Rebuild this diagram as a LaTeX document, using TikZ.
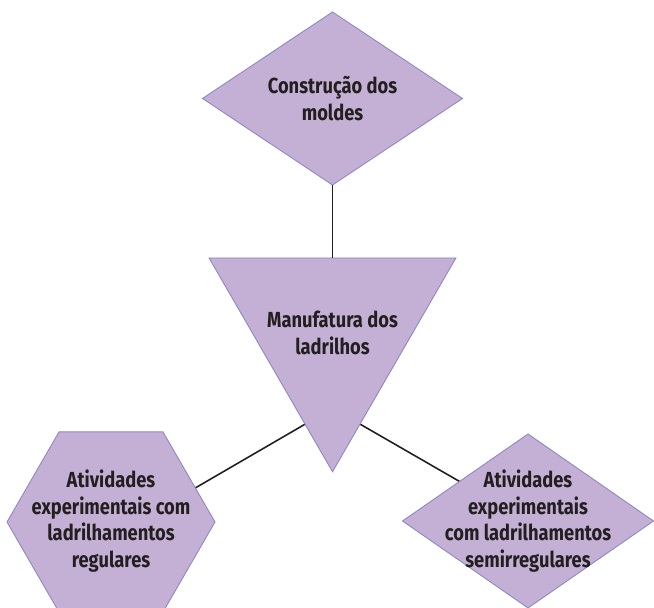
\documentclass[tikz,border=0pt]{standalone}
\usepackage{fontspec}
\setmainfont{Fira Sans}[FakeStretch=0.84]
\usetikzlibrary{shapes.geometric, positioning, calc, backgrounds}
\definecolor{lilas}{HTML}{C5B0D5}
\definecolor{borda}{HTML}{8C86C8}
\definecolor{tinta}{HTML}{231F20}

\begin{document}
\begin{tikzpicture}[
        font=\fontsize{12.4}{15.2}\selectfont\bfseries,
        forma/.style={draw=borda, fill=lilas, line width=0.5pt, inner sep=0pt, outer sep=0pt},
        losango/.style={forma, diamond, minimum width=5.2cm, minimum height=3.46cm},
        triang/.style={forma, regular polygon, regular polygon sides=3, shape border rotate=180, minimum size=5.7cm},
        hexag/.style={forma, regular polygon, regular polygon sides=6, minimum size=4.16cm},
        txt/.style={align=center, text=tinta},
        link/.style={draw=tinta, line width=0.9pt}
    ]
        \useasboundingbox (0,0) rectangle (13.08,12.16);

        % --- Manufatura ---
        \node[triang, label={[txt, yshift=-0.8mm]center:{Manufatura dos\\ladrilhos}}] (manuf) at (6.65,5.575) {};
        \node[losango, above=1.46cm of manuf, label={[txt]center:{Construção dos\\moldes}}] (moldes) {};
        \draw[link] (moldes.south) -- (manuf.north);

        % --- Atividades ---
        \node[hexag, label={[txt, yshift=0.2mm]center:{Atividades\\experimentais com\\ladrilhamentos\\regulares}}] (regular) at (2.22,1.72) {};
        \node[losango, minimum width=5.02cm, minimum height=3.48cm, label={[txt]center:{Atividades\\experimentais\\com ladrilhamentos\\semirregulares}}] (semi) at (10.56,1.74) {};
        % ligações por trás do triângulo
        \coordinate (hub) at ($(manuf.center)+(0,-1.58)$);
        \begin{scope}[on background layer]
            \draw[link] (hub) -- (regular.22);
            \draw[link] (hub) -- (semi.150);
        \end{scope}
    \end{tikzpicture}
\end{document}
